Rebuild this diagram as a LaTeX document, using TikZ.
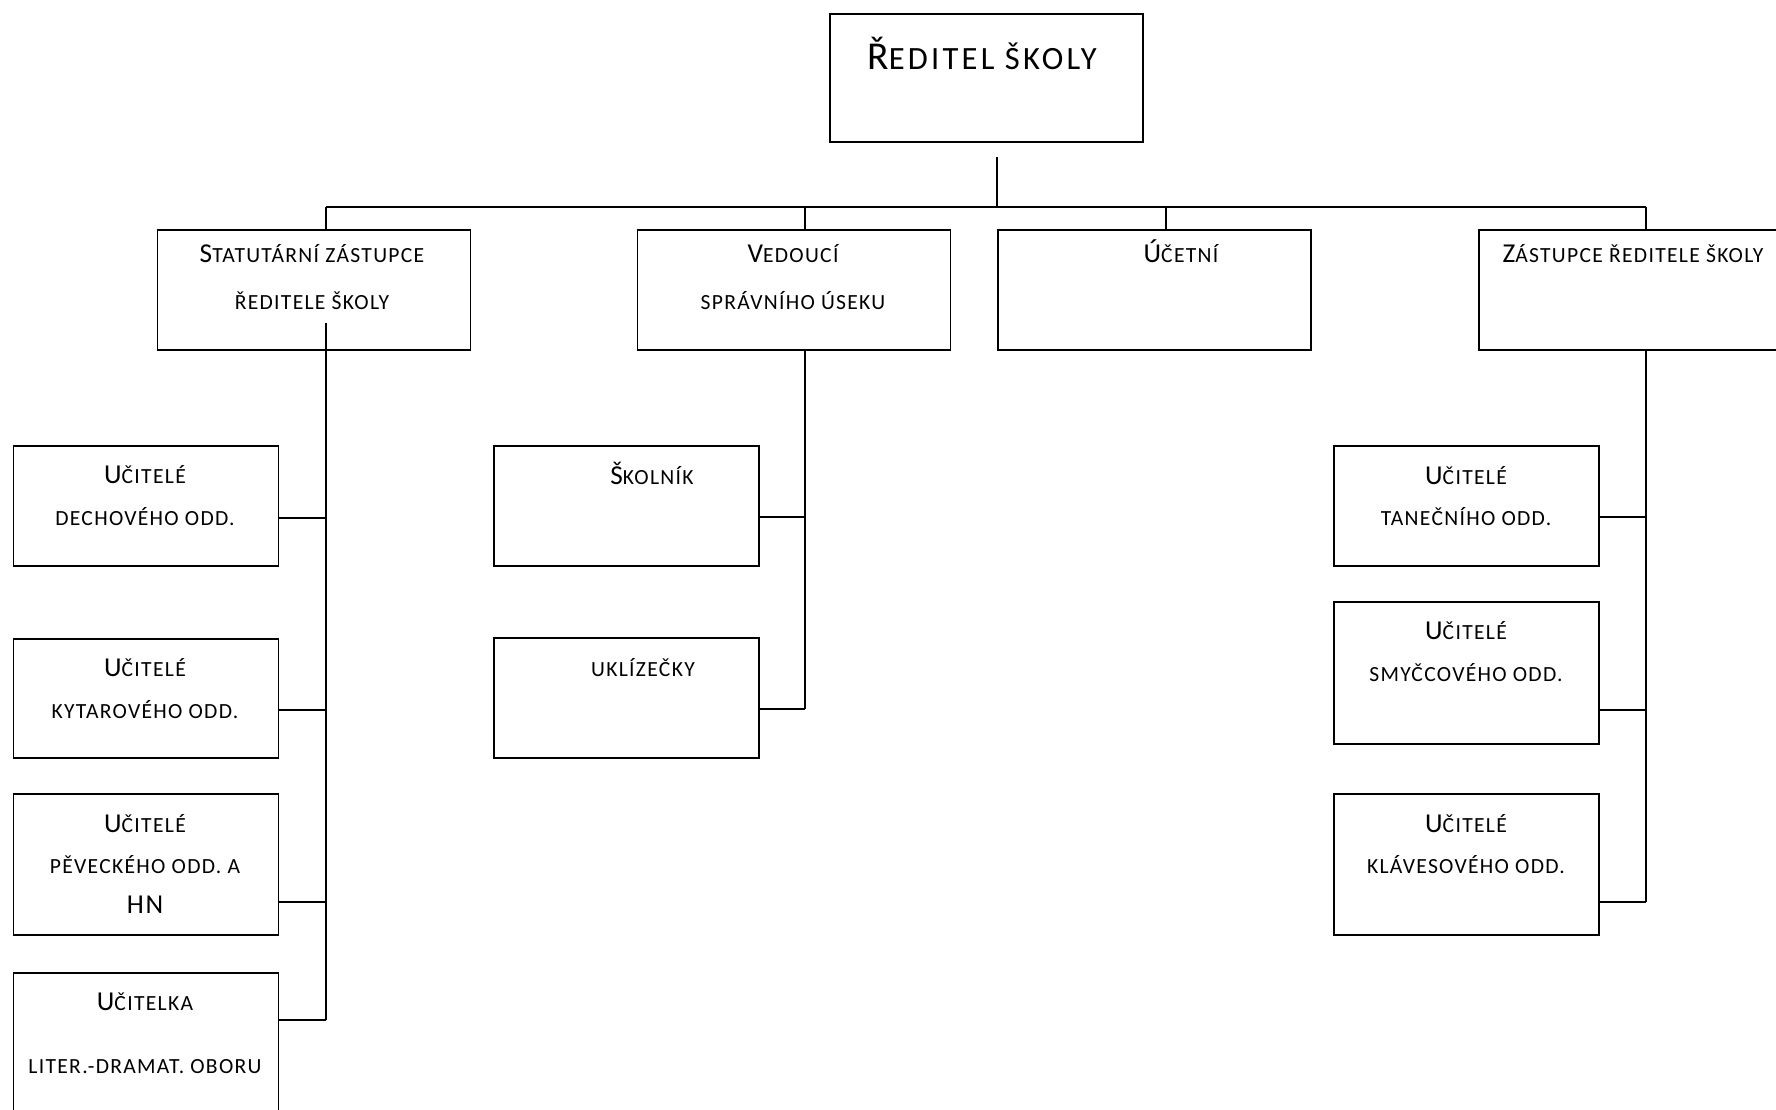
\documentclass[tikz,border=0pt]{standalone}
\usepackage{fontspec}
\setmainfont{Carlito}
\newfontfamily\bodyf{Carlito}[LetterSpace=6]
\newfontfamily\titlef{Carlito}[LetterSpace=10]
\newcommand\Cp[1]{{\fontsize{27.3}{30}\selectfont #1}}
\newcommand\Tp[1]{{\fontsize{39.5}{44}\selectfont #1}}
\begin{document}
\begin{tikzpicture}[x=1pt,y=-1pt,
  box/.style={draw,line width=1.6pt,inner sep=0pt,anchor=north west},
  txt/.style={anchor=base,inner sep=0pt,font=\bodyf\fontsize{21.6}{24}\selectfont},
  ttl/.style={anchor=base,inner sep=0pt,font=\titlef\fontsize{32.5}{36}\selectfont},
  con/.style={line width=1.6pt}]
\useasboundingbox (0,0) rectangle (1776,1110);
\clip (0,0) rectangle (1776,1110);
% boxes
\node[box,minimum width=313pt,minimum height=128pt] (dir) at (829,13.5) {};
\node[box,minimum width=313pt,minimum height=120pt] (stat) at (156.5,229) {};
\node[box,minimum width=313pt,minimum height=120pt] (ved) at (636.5,229) {};
\node[box,minimum width=313pt,minimum height=120pt] (uc) at (997,229) {};
\node[box,minimum width=313pt,minimum height=120pt] (zas) at (1478,229) {};
\node[box,minimum width=265pt,minimum height=120pt] (dech) at (12.5,445) {};
\node[box,minimum width=265pt,minimum height=119pt] (kyt) at (12.5,638) {};
\node[box,minimum width=265pt,minimum height=141pt] (pev) at (12.5,793) {};
\node[box,minimum width=265pt,minimum height=141pt] (ucka) at (12.5,972) {};
\node[box,minimum width=265pt,minimum height=120pt] (skol) at (493,445) {};
\node[box,minimum width=265pt,minimum height=120pt] (ukl) at (493,637) {};
\node[box,minimum width=265pt,minimum height=120pt] (tan) at (1333,445) {};
\node[box,minimum width=265pt,minimum height=142pt] (smy) at (1333,601) {};
\node[box,minimum width=265pt,minimum height=141pt] (klav) at (1333,793) {};
% texts
\node[ttl] (tdir) at (982,70) {\Tp{Ř}EDITEL ŠKOLY};
\node[txt] (tstat1) at (312,262) {\Cp{S}TATUTÁRNÍ ZÁSTUPCE};
\node[txt] (tstat2) at (312,309) {ŘEDITELE ŠKOLY};
\node[txt] (tved1) at (793,262) {\Cp{V}EDOUCÍ};
\node[txt] (tved2) at (793,309) {SPRÁVNÍHO ÚSEKU};
\node[txt] (tuc) at (1181,262) {\Cp{Ú}ČETNÍ};
\node[txt] (tzas) at (1633,262) {\Cp{Z}ÁSTUPCE ŘEDITELE ŠKOLY};
\node[txt] (tdech1) at (145,483) {\Cp{U}ČITELÉ};
\node[txt] (tdech2) at (145,525) {DECHOVÉHO ODD.};
\node[txt] (tkyt1) at (145,676) {\Cp{U}ČITELÉ};
\node[txt] (tkyt2) at (145,718) {KYTAROVÉHO ODD.};
\node[txt] (tpev1) at (145,832) {\Cp{U}ČITELÉ};
\node[txt] (tpev2) at (145,873) {PĚVECKÉHO ODD. A};
\node[txt] (tpev3) at (145,913) {\Cp{HN}};
\node[txt] (tucka1) at (145,1010) {\Cp{U}ČITELKA};
\node[txt] (tucka2) at (145,1073) {LITER.-DRAMAT. OBORU};
\node[txt] (tskol) at (652,484) {\Cp{Š}KOLNÍK};
\node[txt] (tukl) at (643,676) {UKLÍZEČKY};
\node[txt] (ttan1) at (1466,484) {\Cp{U}ČITELÉ};
\node[txt] (ttan2) at (1466,525) {TANEČNÍHO ODD.};
\node[txt] (tsmy1) at (1466,639) {\Cp{U}ČITELÉ};
\node[txt] (tsmy2) at (1466,681) {SMYČCOVÉHO ODD.};
\node[txt] (tklav1) at (1466,832) {\Cp{U}ČITELÉ};
\node[txt] (tklav2) at (1466,873) {KLÁVESOVÉHO ODD.};
% junction coordinates
\coordinate (top) at (997,157);
\coordinate (bus) at (997,207);
\coordinate (bl) at (326,207);
\coordinate (br) at (1646,207);
\coordinate (sv) at (326,323);
\coordinate (s1) at (326,518);
\coordinate (s2) at (326,710);
\coordinate (s3) at (326,902);
\coordinate (s4) at (326,1020);
\coordinate (v1) at (805,517);
\coordinate (v2) at (805,709);
\coordinate (z1) at (1646,517);
\coordinate (z2) at (1646,710);
\coordinate (z3) at (1646,902);
% connectors
\draw[con] (top) -- (bus);
\draw[con] (bl) -- (br);
\draw[con] (bl) -- (bl |- stat.north);
\draw[con] (805,207) -- (805,229);
\draw[con] (1166,207) -- (1166,229);
\draw[con] (br) -- (br |- zas.north);
\draw[con] (sv) -- (s4);
\draw[con] (dech.east |- s1) -- (s1);
\draw[con] (kyt.east |- s2) -- (s2);
\draw[con] (pev.east |- s3) -- (s3);
\draw[con] (ucka.east |- s4) -- (s4);
\draw[con] (v1 |- ved.south) -- (v2);
\draw[con] (skol.east |- v1) -- (v1);
\draw[con] (ukl.east |- v2) -- (v2);
\draw[con] (z1 |- zas.south) -- (z3);
\draw[con] (tan.east |- z1) -- (z1);
\draw[con] (smy.east |- z2) -- (z2);
\draw[con] (klav.east |- z3) -- (z3);
\end{tikzpicture}
\end{document}
